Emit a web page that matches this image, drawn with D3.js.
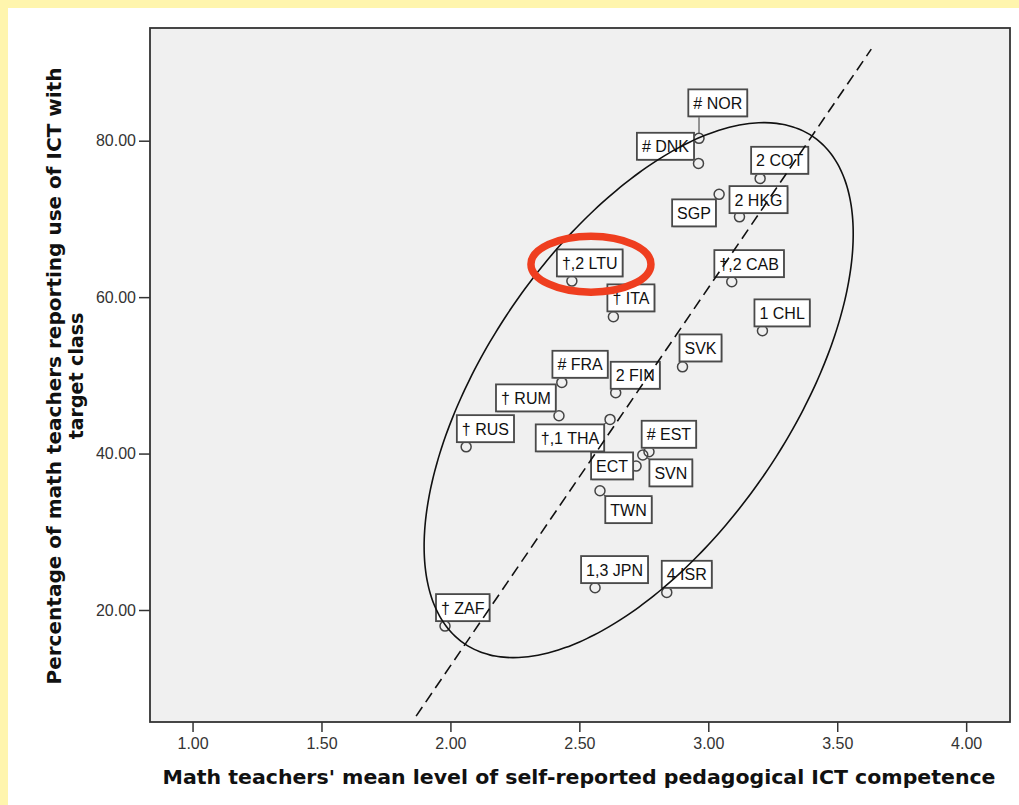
<!DOCTYPE html>
<html>
<head>
<meta charset="utf-8">
<title>ICT competence vs ICT use</title>
<script src="https://d3js.org/d3.v7.min.js"></script>
<style>
  body { margin: 0; background: #fff; }
</style>
</head>
<body>
<div id="chart"></div>
<script>
// country labels and values
const countries = ["# NOR", "# DNK", "2 COT", "SGP", "2 HKG", "†,2 LTU", "†,2 CAB", "† ITA", "1 CHL", "SVK",
                   "# FRA", "2 FIN", "† RUM", "† RUS", "†,1 THA", "# EST", "SVN", "ECT", "TWN", "1,3 JPN", "4 ISR", "† ZAF"];
const competence = [2.964, 2.962, 3.201, 3.042, 3.121, 2.471, 3.091, 2.632, 3.210, 2.900,
                    2.432, 2.641, 2.421, 2.061, 2.619, 2.770, 2.746, 2.720, 2.580, 2.561, 2.839, 1.979];
const ictUse = [80.30, 77.10, 75.18, 73.14, 70.27, 62.05, 61.96, 57.49, 55.70, 51.09,
                49.10, 47.77, 44.83, 40.86, 44.37, 40.23, 39.81, 38.40, 35.24, 22.84, 22.25, 17.94];

const xTicks = [1.0, 1.5, 2.0, 2.5, 3.0, 3.5, 4.0];
const yTicks = [20, 40, 60, 80];

// dashed reference line (end points, data units)
const lineX = [1.867, 3.632];
const lineY = [6.43, 91.71];

// ellipse: centre, half extents, correlation (data units)
const ellCenter = [2.730, 48.11];
const ellRadius = [0.832, 34.20];
const ellCorr = 0.584;

// highlight ring round LTU
const ringCenter = [2.545, 64.22];

// label box offsets from the point, pixels (layout only)
const labelDx = [-10.7, -61.6, -9, -47, -10, -15, -17.4, -6, -8, -3, -9.4, -5, -63, -9.3, -74.3, -7.3, 6.6, -45, 5.3, -14, -5, -9];
const labelDy = [-49, -30.6, -31.6, 5, -30.7, -31.7, -31.7, -32.4, -31.4, -32.4, -31.6, -31, -31.4, -31.7, 5, -31, 4.3, -13.7, 5.3, -31.7, -31.6, -32];

const data = countries.map((c, i) => ({name: c, x: competence[i], y: ictUse[i], dx: labelDx[i], dy: labelDy[i]}));

const W = 1019, H = 805;
const margin = {top: 28, right: 9, bottom: 83, left: 150};
const w = W - margin.left - margin.right;
const h = H - margin.top - margin.bottom;

const labelFont = "'Liberation Sans', Arial, 'DejaVu Sans', sans-serif";
const titleFont = "'DejaVu Sans', Verdana, sans-serif";

const root = d3.select("#chart").append("svg")
    .attr("width", W).attr("height", H)
    .style("display", "block");

// page background with the yellow edge
root.append("rect").attr("width", W).attr("height", H).attr("fill", "#fff");
root.append("rect").attr("width", W).attr("height", 8).attr("fill", "#fff5ad");
root.append("rect").attr("width", 8).attr("height", H).attr("fill", "#fff5ad");

const svg = root.append("g").attr("transform", "translate(" + margin.left + "," + margin.top + ")");

let xScale = d3.scaleLinear().domain([0.835, 4.17]).range([0, w]);
let yScale = d3.scaleLinear().domain([5.68, 94.41]).range([h, 0]);

svg.append("rect")
    .attr("width", w).attr("height", h)
    .attr("fill", "#f0f0f0");

// axes
let xAxis = d3.axisBottom(xScale).tickValues(xTicks).tickFormat(d3.format(".2f")).tickSize(10).tickPadding(6);
let yAxis = d3.axisLeft(yScale).tickValues(yTicks).tickFormat(d3.format(".2f")).tickSize(11).tickPadding(3);

const gx = svg.append("g").attr("transform", "translate(0," + h + ")").call(xAxis);
const gy = svg.append("g").call(yAxis);
[gx, gy].forEach(g => {
    g.select(".domain").remove();
    g.selectAll(".tick line").attr("stroke", "#333").attr("stroke-width", 1.5);
    g.selectAll(".tick text")
        .attr("font-family", labelFont)
        .attr("font-size", "16px")
        .attr("fill", "#333");
});

// points
const pts = svg.selectAll(".pt")
    .data(data)
    .enter()
    .append("g")
    .attr("class", "pt")
    .attr("transform", d => "translate(" + xScale(d.x) + "," + yScale(d.y) + ")");

pts.append("circle")
    .attr("r", 5)
    .attr("fill", "none")
    .attr("stroke", "#444")
    .attr("stroke-width", 1.5);

// labels in boxes
pts.each(function(d) {
    const g = d3.select(this);
    const t = g.append("text")
        .attr("x", d.dx + 5)
        .attr("y", d.dy + 19.5)
        .attr("font-family", labelFont)
        .attr("font-size", "16px")
        .attr("fill", "#111")
        .text(d.name);
    const bw = t.node().getComputedTextLength() + 10;
    const bh = 27;
    // leader line to the nearest edge of the box
    const nx = Math.max(d.dx, Math.min(0, d.dx + bw));
    const ny = Math.max(d.dy, Math.min(0, d.dy + bh));
    const dist = Math.hypot(nx, ny);
    if (dist > 6) {
        g.insert("line", "text")
            .attr("x1", nx / dist * 5).attr("y1", ny / dist * 5)
            .attr("x2", nx).attr("y2", ny)
            .attr("stroke", "#555").attr("stroke-width", 1.2);
    }
    g.insert("rect", "text")
        .attr("x", d.dx + 1).attr("y", d.dy + 1)
        .attr("width", bw).attr("height", bh)
        .attr("fill", "#aaa");
    g.insert("rect", "text")
        .attr("x", d.dx).attr("y", d.dy)
        .attr("width", bw).attr("height", bh)
        .attr("fill", "#fff")
        .attr("stroke", "#4a4a4a")
        .attr("stroke-width", 1.8);
});

// dashed line
svg.append("line")
    .attr("x1", xScale(lineX[0])).attr("y1", yScale(lineY[0]))
    .attr("x2", xScale(lineX[1])).attr("y2", yScale(lineY[1]))
    .attr("stroke", "#111")
    .attr("stroke-width", 1.6)
    .attr("stroke-dasharray", "11,6");

// ellipse
const angles = d3.range(0, 360, 2).map(a => a * Math.PI / 180);
const ellLine = d3.line()
    .x(t => xScale(ellCenter[0] + ellRadius[0] * Math.cos(t)))
    .y(t => yScale(ellCenter[1] + ellRadius[1] * (ellCorr * Math.cos(t) + Math.sqrt(1 - ellCorr * ellCorr) * Math.sin(t))))
    .curve(d3.curveCardinalClosed);
svg.append("path")
    .attr("d", ellLine(angles))
    .attr("fill", "none")
    .attr("stroke", "#111")
    .attr("stroke-width", 1.6);

// frame
svg.append("rect")
    .attr("width", w).attr("height", h)
    .attr("fill", "none")
    .attr("stroke", "#333")
    .attr("stroke-width", 1.8);

// red ring
svg.append("ellipse")
    .attr("cx", xScale(ringCenter[0])).attr("cy", yScale(ringCenter[1]))
    .attr("rx", 60).attr("ry", 28)
    .attr("fill", "none")
    .attr("stroke", "#ef3e1f")
    .attr("stroke-width", 7.5);

// axis titles
svg.append("text")
    .attr("transform", "translate(" + (w / 2 - 1) + "," + (h + 62) + ")")
    .style("text-anchor", "middle")
    .attr("font-family", titleFont)
    .attr("font-weight", "bold")
    .attr("font-size", "19px")
    .attr("fill", "#111")
    .attr("textLength", 833)
    .attr("lengthAdjust", "spacingAndGlyphs")
    .text("Math teachers' mean level of self-reported pedagogical ICT competence");

const yTitle = svg.append("text")
    .attr("transform", "rotate(-90)")
    .style("text-anchor", "middle")
    .attr("font-family", titleFont)
    .attr("font-weight", "bold")
    .attr("font-size", "19px")
    .attr("fill", "#111");
yTitle.append("tspan")
    .attr("x", -348).attr("y", -89)
    .attr("textLength", 617)
    .attr("lengthAdjust", "spacingAndGlyphs")
    .text("Percentage of math teachers reporting use of ICT with");
yTitle.append("tspan")
    .attr("x", -348).attr("y", -67)
    .text("target class");
</script>
</body>
</html>
